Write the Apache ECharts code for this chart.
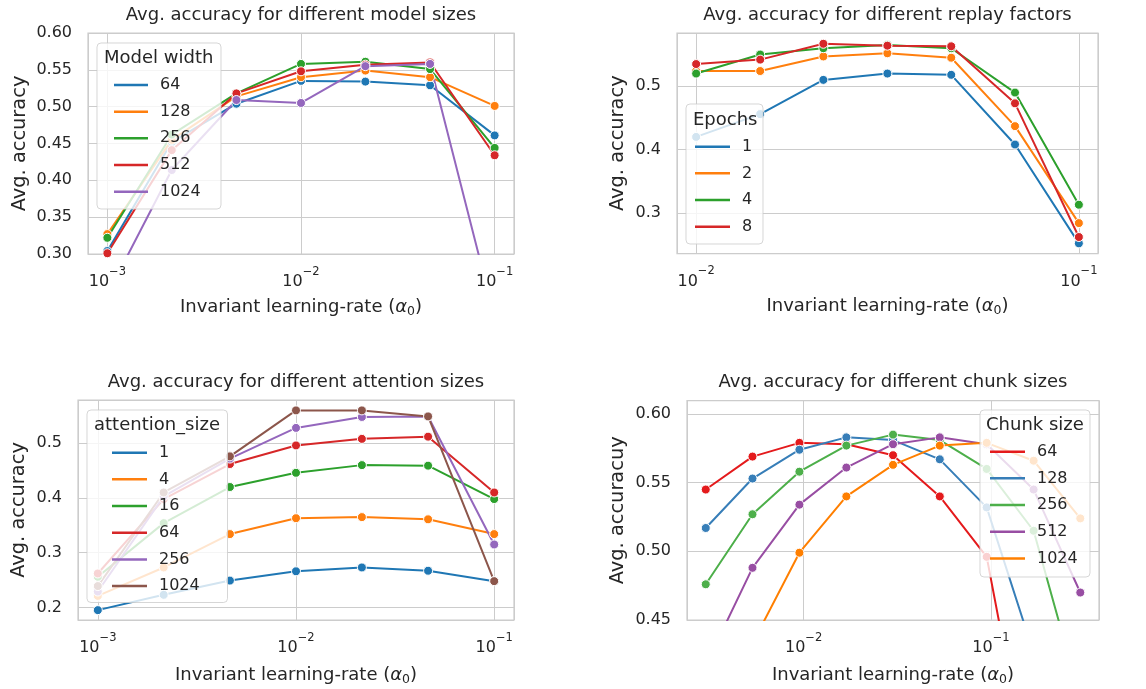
<!DOCTYPE html>
<html>
<head>
<meta charset="utf-8">
<script src="https://cdn.jsdelivr.net/npm/echarts@6/dist/echarts.min.js"></script>
<style>
  html, body { margin: 0; padding: 0; background: #ffffff; }
  #chart { width: 1146px; height: 689px; }
</style>
</head>
<body>
<div id="chart"></div>
<script>
// ---------------- data ----------------
// Panel 1: model sizes
const lrModel = [0.001, 0.00215, 0.00464, 0.01, 0.0215, 0.0464, 0.1];
const modelWidths = ['64', '128', '256', '512', '1024'];
const accWidth64 = [0.304, 0.452, 0.504, 0.535, 0.534, 0.529, 0.461];
const accWidth128 = [0.327, 0.455, 0.514, 0.540, 0.549, 0.540, 0.501];
const accWidth256 = [0.322, 0.462, 0.518, 0.558, 0.561, 0.551, 0.444];
const accWidth512 = [0.301, 0.441, 0.518, 0.548, 0.557, 0.560, 0.434];
const accWidth1024 = [0.245, 0.414, 0.509, 0.505, 0.555, 0.558, 0.214];

// Panel 2: replay factors
const lrReplay = [0.01, 0.0147, 0.0215, 0.0316, 0.0464, 0.0681, 0.1];
const epochs = ['1', '2', '4', '8'];
const accEpoch1 = [0.420, 0.456, 0.510, 0.520, 0.518, 0.408, 0.252];
const accEpoch2 = [0.524, 0.524, 0.547, 0.552, 0.545, 0.437, 0.284];
const accEpoch4 = [0.520, 0.550, 0.560, 0.565, 0.560, 0.490, 0.313];
const accEpoch8 = [0.535, 0.542, 0.567, 0.564, 0.563, 0.473, 0.262];

// Panel 3: attention sizes
const lrAttention = [0.001, 0.00215, 0.00464, 0.01, 0.0215, 0.0464, 0.1];
const attentionSizes = ['1', '4', '16', '64', '256', '1024'];
const accAttn1 = [0.195, 0.223, 0.249, 0.266, 0.273, 0.267, 0.248];
const accAttn4 = [0.221, 0.273, 0.334, 0.363, 0.365, 0.361, 0.334];
const accAttn16 = [0.256, 0.354, 0.420, 0.446, 0.460, 0.459, 0.398];
const accAttn64 = [0.262, 0.398, 0.462, 0.496, 0.508, 0.512, 0.410];
const accAttn256 = [0.229, 0.403, 0.472, 0.528, 0.548, 0.549, 0.315];
const accAttn1024 = [0.239, 0.410, 0.476, 0.560, 0.560, 0.549, 0.248];

// Panel 4: chunk sizes
const lrChunk = [0.003, 0.00533, 0.00949, 0.0169, 0.03, 0.0533, 0.0949, 0.169, 0.3];
const chunkSizes = ['64', '128', '256', '512', '1024'];
const accChunk64 = [0.545, 0.569, 0.579, 0.578, 0.570, 0.540, 0.496, 0.317, 0.220];
const accChunk128 = [0.517, 0.553, 0.574, 0.583, 0.581, 0.567, 0.532, 0.426, 0.330];
const accChunk256 = [0.476, 0.527, 0.558, 0.577, 0.585, 0.581, 0.560, 0.515, 0.393];
const accChunk512 = [0.417, 0.488, 0.534, 0.561, 0.578, 0.583, 0.578, 0.545, 0.470];
const accChunk1024 = [0.360, 0.433, 0.499, 0.540, 0.563, 0.577, 0.579, 0.566, 0.524];

const titles = [
  'Avg. accuracy for different model sizes',
  'Avg. accuracy for different replay factors',
  'Avg. accuracy for different attention sizes',
  'Avg. accuracy for different chunk sizes'
];
const yNames = ['Avg. accuracy', 'Avg. accuracy', 'Avg. accuracy', 'Avg. accuracuy'];
const legendTitles = ['Model width', 'Epochs', 'attention_size', 'Chunk size'];

// ---------------- style ----------------
const FONT = 'DejaVu Sans';
const TXT = '#262626';
const GRIDC = '#cccccc';
const tab10 = ['#1f77b4', '#ff7f0e', '#2ca02c', '#d62728', '#9467bd', '#8c564b'];
const set1 = ['#e41a1c', '#377eb8', '#4daf4a', '#984ea3', '#ff7f00'];

const panels = [
  { xs: lrModel, names: modelWidths, ys: [accWidth64, accWidth128, accWidth256, accWidth512, accWidth1024], colors: tab10,
    grid: { left: 88, top: 33, width: 426, height: 221 },
    xmin: Math.pow(10, -3.1), xmax: Math.pow(10, -0.9),
    ymin: 0.30, ymax: 0.60, yint: 0.05, ydec: 2, yGap: 56, xGap: 42,
    leg: { box: [97, 43, 124, 166], titleX: 104, titleY: 58, left: 114, firstY: 85, itemW: 34 } },
  { xs: lrReplay, names: epochs, ys: [accEpoch1, accEpoch2, accEpoch4, accEpoch8], colors: tab10,
    grid: { left: 677, top: 33, width: 421, height: 220.5 },
    xmin: Math.pow(10, -2.05), xmax: Math.pow(10, -0.95),
    ymin: 0.236, ymax: 0.584, yint: 0.1, ydec: 1, yGap: 47, xGap: 42,
    leg: { box: [686, 104, 77, 140], titleX: 693, titleY: 120, left: 695, firstY: 146.7, itemW: 35 } },
  { xs: lrAttention, names: attentionSizes, ys: [accAttn1, accAttn4, accAttn16, accAttn64, accAttn256, accAttn1024], colors: tab10,
    grid: { left: 78, top: 400, width: 436, height: 220 },
    xmin: Math.pow(10, -3.1), xmax: Math.pow(10, -0.9),
    ymin: 0.177, ymax: 0.579, yint: 0.1, ydec: 1, yGap: 47, xGap: 44,
    leg: { box: [87, 410, 140.5, 192.5], titleX: 94, titleY: 425, left: 112, firstY: 452.7, itemW: 35 } },
  { xs: lrChunk, names: chunkSizes, ys: [accChunk64, accChunk128, accChunk256, accChunk512, accChunk1024], colors: set1,
    grid: { left: 687, top: 400.7, width: 412, height: 219.3 },
    xmin: Math.pow(10, -2.623), xmax: Math.pow(10, -0.423),
    ymin: 0.45, ymax: 0.6097, yint: 0.05, ydec: 2, yGap: 57, xGap: 44,
    leg: { box: [980, 410, 110, 167], titleX: 986, titleY: 425, left: 990, firstY: 451.7, itemW: 35 } }
];

const option = {
  backgroundColor: '#ffffff',
  animation: false,
  textStyle: { fontFamily: FONT, color: TXT },
  title: [], grid: [], xAxis: [], yAxis: [], series: [], legend: [], graphic: []
};

panels.forEach((p, i) => {
  const g = p.grid;
  option.grid.push({
    left: g.left, top: g.top, width: g.width, height: g.height,
    show: true, backgroundColor: '#ffffff', borderColor: GRIDC, borderWidth: 1.25,
    containLabel: false
  });
  option.title.push({
    text: titles[i], left: g.left + g.width / 2, top: g.top - 29, textAlign: 'center', padding: 0,
    textStyle: { fontFamily: FONT, fontSize: 18, fontWeight: 'normal', color: TXT, lineHeight: 22 }
  });
  option.xAxis.push({
    type: 'log', logBase: 10, gridIndex: i, min: p.xmin, max: p.xmax,
    name: '{a|Invariant learning-rate (}{i|α}{sub|0}{a|)}',
    nameLocation: 'middle', nameGap: p.xGap,
    nameTextStyle: {
      color: TXT, fontFamily: FONT,
      rich: {
        a: { fontSize: 18, fontFamily: FONT, color: TXT, lineHeight: 22 },
        i: { fontSize: 18, fontFamily: FONT, fontStyle: 'italic', color: TXT, lineHeight: 22 },
        sub: { fontSize: 12.5, fontFamily: FONT, color: TXT, lineHeight: 14, verticalAlign: 'bottom' }
      }
    },
    axisLine: { show: false }, axisTick: { show: false },
    splitLine: { show: true, lineStyle: { color: GRIDC, width: 1 } },
    minorTick: { show: false }, minorSplitLine: { show: false },
    axisLabel: {
      margin: 12, showMinLabel: false, showMaxLabel: false,
      formatter: function (v) {
        const e = Math.round(Math.log10(v));
        return '{b|10}{s|' + (e < 0 ? '\u2212' : '') + Math.abs(e) + '}';
      },
      rich: {
        b: { fontSize: 16, fontFamily: FONT, color: TXT, lineHeight: 24, verticalAlign: 'bottom' },
        s: { fontSize: 11.5, fontFamily: FONT, color: TXT, lineHeight: 14, verticalAlign: 'top' }
      }
    }
  });
  option.yAxis.push({
    type: 'value', gridIndex: i, min: p.ymin, max: p.ymax,
    minInterval: p.yint, maxInterval: p.yint, splitNumber: 4,
    name: yNames[i], nameLocation: 'middle', nameGap: p.yGap, nameRotate: 90,
    nameTextStyle: { fontFamily: FONT, fontSize: 19.4, color: TXT, lineHeight: 24 },
    axisLine: { show: false }, axisTick: { show: false },
    splitLine: { show: true, lineStyle: { color: GRIDC, width: 1 } },
    axisLabel: {
      margin: 16, fontFamily: FONT, fontSize: 16, color: TXT,
      showMinLabel: p.ydec === 2, showMaxLabel: i === 0,
      formatter: function (v) { return v.toFixed(p.ydec); }
    }
  });
  const seriesNames = [];
  p.names.forEach((nm, k) => {
    const sname = 'p' + i + '_' + nm;
    seriesNames.push(sname);
    option.series.push({
      name: sname, type: 'line', xAxisIndex: i, yAxisIndex: i,
      data: p.xs.map((x, j) => [x, p.ys[k][j]]),
      color: p.colors[k],
      lineStyle: { width: 2, color: p.colors[k] },
      symbol: 'circle', symbolSize: 9, showSymbol: true,
      itemStyle: { color: p.colors[k], borderColor: '#ffffff', borderWidth: 1 },
      emphasis: { disabled: true }, clip: true, z: 2
    });
  });
  const L = p.leg;
  option.graphic.push({
    type: 'rect', z: 10, silent: true,
    shape: { x: L.box[0], y: L.box[1], width: L.box[2], height: L.box[3], r: 4 },
    style: { fill: 'rgba(255,255,255,0.8)', stroke: 'rgba(204,204,204,0.8)', lineWidth: 1 }
  });
  option.graphic.push({
    type: 'text', z: 21, silent: true,
    style: { text: legendTitles[i], x: L.titleX, y: L.titleY, fill: TXT,
      font: '18px "DejaVu Sans"', verticalAlign: 'middle', align: 'left' }
  });
  option.legend.push({
    orient: 'vertical', left: L.left, top: L.firstY - 10, padding: 0,
    itemWidth: L.itemW, itemHeight: 2.5, icon: 'rect', itemGap: 6.67,
    selectedMode: false, z: 20,
    itemStyle: { borderWidth: 0, borderColor: 'transparent' },
    data: seriesNames,
    formatter: function (name) { return name.split('_')[1]; },
    textStyle: { fontFamily: FONT, fontSize: 16, color: TXT, lineHeight: 20, padding: [0, 0, 0, 7] }
  });
});

const chart = echarts.init(document.getElementById('chart'), null, { renderer: 'canvas' });
chart.setOption(option);
</script>
</body>
</html>
